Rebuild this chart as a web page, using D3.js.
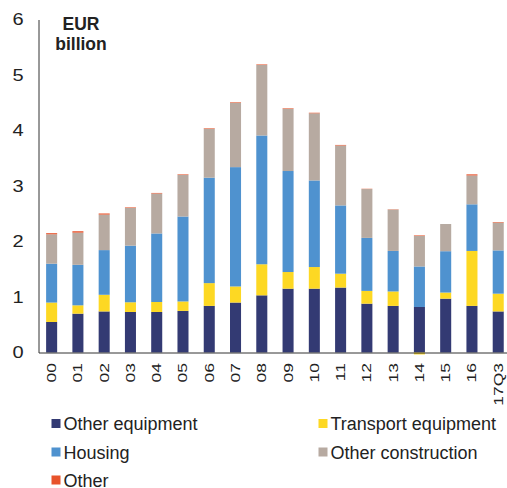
<!DOCTYPE html>
<html>
<head>
<meta charset="utf-8">
<script src="https://cdn.jsdelivr.net/npm/d3@7"></script>
<style>
  body { margin: 0; background: #fff; }
  svg { display: block; font-family: "Liberation Sans", Arial, sans-serif; }
</style>
</head>
<body>
<svg width="507" height="488"></svg>
<script>
var years = ["00", "01", "02", "03", "04", "05", "06", "07", "08", "09",
             "10", "11", "12", "13", "14", "15", "16", "17Q3"];
var otherEquipment    = [0.55, 0.70, 0.74, 0.73, 0.73, 0.75, 0.84, 0.90, 1.03, 1.15, 1.15, 1.17, 0.88, 0.84, 0.82, 0.97, 0.84, 0.74];
var transportEquipment = [0.35, 0.15, 0.30, 0.175, 0.18, 0.17, 0.41, 0.29, 0.56, 0.30, 0.39, 0.25, 0.23, 0.26, -0.035, 0.11, 0.99, 0.32];
var housing           = [0.70, 0.73, 0.805, 1.02, 1.235, 1.53, 1.90, 2.15, 2.32, 1.82, 1.56, 1.23, 0.955, 0.73, 0.73, 0.745, 0.84, 0.78];
var otherConstruction = [0.53, 0.58, 0.64, 0.68, 0.72, 0.75, 0.88, 1.16, 1.27, 1.12, 1.21, 1.08, 0.88, 0.745, 0.55, 0.49, 0.52, 0.50];
var other             = [0.02, 0.025, 0.02, 0.01, 0.01, 0.01, 0.01, 0.01, 0.01, 0.01, 0.01, 0.01, 0.005, 0.005, 0.01, 0, 0.02, 0.01];
var seriesNames = ["Other equipment", "Transport equipment", "Housing", "Other construction", "Other"];
var yTicks = [0, 1, 2, 3, 4, 5, 6];

(function() {
    'use strict';
    var svg = d3.select("svg");
    var colors = ["#333a73", "#fdd823", "#4f92cf", "#b7aaa1", "#e8532b"];
    var keys = ["eq", "tr", "ho", "oc", "ot"];

    var table = years.map(function(yr, i) {
        return { year: yr, eq: otherEquipment[i], tr: transportEquipment[i],
                 ho: housing[i], oc: otherConstruction[i], ot: other[i] };
    });

    var x = d3.scaleBand()
        .domain(years)
        .range([38.5, 38.5 + 18 * 26.27])
        .paddingInner(0.58)
        .paddingOuter(0.29);

    var y = d3.scaleLinear()
        .domain([0, 6])
        .range([352.5, 19.5]);

    var stacked = d3.stack()
        .keys(keys)
        .offset(d3.stackOffsetDiverging)(table);

    var color = d3.scaleOrdinal().domain(keys).range(colors);

    svg.append("g")
        .selectAll("g")
        .data(stacked)
        .enter().append("g")
          .attr("fill", function(d) { return color(d.key); })
        .selectAll("rect")
        .data(function(d) { return d; })
        .enter().append("rect")
          .attr("x", function(d) { return x(d.data.year); })
          .attr("width", x.bandwidth())
          .attr("y", function(d) { return y(Math.max(d[0], d[1])); })
          .attr("height", function(d) { return Math.abs(y(d[0]) - y(d[1])); });

    // y axis
    var gy = svg.append("g")
        .attr("transform", "translate(38.5,0)")
        .call(d3.axisLeft(y).tickValues(yTicks).tickFormat(d3.format("d"))
              .tickSize(0).tickSizeOuter(0).tickPadding(12));
    gy.select(".domain").attr("stroke", "#333");
    gy.selectAll("text")
        .attr("font-size", 16)
        .attr("fill", "#222")
        .attr("font-family", "Liberation Sans, Arial, sans-serif")
        .attr("transform", "scale(1.25,1)");

    // x axis
    var gx = svg.append("g")
        .attr("transform", "translate(0,352.5)")
        .call(d3.axisBottom(x).tickSize(0).tickSizeOuter(0));
    gx.select(".domain").attr("stroke", "#333");
    gx.selectAll(".tick text").remove();
    gx.selectAll(".tick")
      .append("text")
        .attr("transform", "translate(0,10.5) rotate(-90) scale(1.4,1)")
        .attr("text-anchor", "end")
        .attr("dy", "0.36em")
        .attr("font-size", 12.5)
        .attr("fill", "#222")
        .attr("font-family", "Liberation Sans, Arial, sans-serif")
        .text(function(d) { return d; });

    // unit label
    var unit = svg.append("text")
        .attr("text-anchor", "middle")
        .attr("font-size", 17.5)
        .attr("font-weight", "bold")
        .attr("fill", "#222");
    unit.append("tspan").attr("x", 81).attr("y", 29.5).text("EUR");
    unit.append("tspan").attr("x", 81).attr("y", 50).text("billion");

    // legend
    var legendPos = [[51.5, 419], [318.5, 419], [51.5, 447.5], [318.5, 447.5], [51.5, 475.5]];
    var lg = svg.append("g")
        .selectAll("g")
        .data(seriesNames)
        .enter().append("g")
          .attr("transform", function(d, i) { return "translate(" + legendPos[i][0] + "," + legendPos[i][1] + ")"; });
    lg.append("rect")
        .attr("width", 9)
        .attr("height", 9)
        .attr("fill", function(d, i) { return colors[i]; });
    lg.append("text")
        .attr("x", 12)
        .attr("y", 11)
        .attr("font-size", 18)
        .attr("fill", "#222")
        .text(function(d) { return d; });
}());
</script>
</body>
</html>
